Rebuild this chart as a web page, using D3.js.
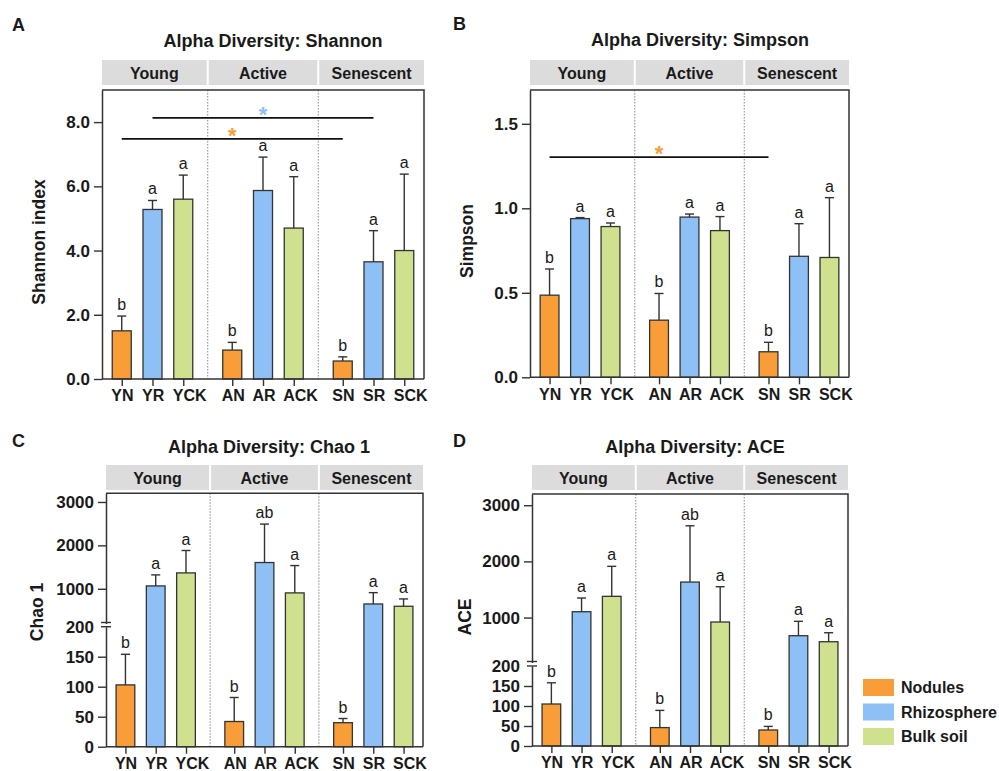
<!DOCTYPE html>
<html>
<head>
<meta charset="utf-8">
<script src="https://cdn.jsdelivr.net/npm/d3@7"></script>
<style>
  body { margin: 0; background: #fff; }
  svg { font-family: "Liberation Sans", Arial, sans-serif; }
</style>
</head>
<body>
<div id="chart"></div>
<script>
/* DATA */
const groups = ["Young", "Active", "Senescent"];
const types = ["Nodules", "Rhizosphere", "Bulk soil"];
const samples = ["YN", "YR", "YCK", "AN", "AR", "ACK", "SN", "SR", "SCK"];

const shannonMean = [1.50, 5.28, 5.60, 0.90, 5.87, 4.70, 0.56, 3.65, 4.00];
const shannonSd = [0.46, 0.28, 0.75, 0.24, 1.04, 1.60, 0.13, 0.97, 2.38];
const shannonLetters = ["b", "a", "a", "b", "a", "a", "b", "a", "a"];
const shannonTicks = [0, 2, 4, 6, 8];

const simpsonMean = [0.486, 0.939, 0.892, 0.338, 0.948, 0.868, 0.151, 0.716, 0.709];
const simpsonSd = [0.155, 0.006, 0.021, 0.158, 0.018, 0.083, 0.056, 0.193, 0.354];
const simpsonLetters = ["b", "a", "a", "b", "a", "a", "b", "a", "a"];
const simpsonTicks = [0, 0.5, 1.0, 1.5];

const chaoMean = [103, 1066, 1366, 42, 1605, 905, 40, 650, 597];
const chaoSd = [51, 254, 516, 40, 886, 630, 7, 261, 169];
const chaoLetters = ["b", "a", "a", "b", "ab", "a", "b", "a", "a"];

const aceMean = [105, 1104, 1378, 46, 1632, 921, 40, 677, 570];
const aceSd = [53, 244, 534, 43, 1002, 628, 9, 256, 160];
const aceLetters = ["b", "a", "a", "b", "ab", "a", "b", "a", "a"];

// broken axis for the richness panels
const lowTicks = [0, 50, 100, 150, 200];
const highTicks = [1000, 2000, 3000];
const breakAt = 200;

// significance bars (value = height in data units, type = colour of the star)
const shannonSig = [
  { from: "YN", to: "SN", value: 7.48, type: 0 },
  { from: "YR", to: "SR", value: 8.13, type: 1 }
];
const simpsonSig = [
  { from: "YN", to: "SN", value: 1.303, type: 0 }
];

/* STYLE + LAYOUT */
const colors = ["#f99d38", "#8ebff5", "#cfe18f"];
const ink = "#1a1a1a";
const line = "#333";

const panels = [
  { id: "A", title: "Alpha Diversity: Shannon", yTitle: "Shannon index",
    mean: shannonMean, sd: shannonSd, letters: shannonLetters, ticks: shannonTicks, max: 9, sig: shannonSig,
    left: 102, right: 424, top: 90, bottom: 379, stripTop: 60,
    lx: 12, ly: 31, tx: 273, ty: 47, yx: 38.5, yy: 242 },
  { id: "B", title: "Alpha Diversity: Simpson", yTitle: "Simpson",
    mean: simpsonMean, sd: simpsonSd, letters: simpsonLetters, ticks: simpsonTicks, max: 1.7, sig: simpsonSig,
    left: 530, right: 849, top: 90, bottom: 377.3, stripTop: 60,
    lx: 453, ly: 30, tx: 700, ty: 46, yx: 466.7, yy: 241 },
  { id: "C", title: "Alpha Diversity: Chao 1", yTitle: "Chao 1",
    mean: chaoMean, sd: chaoSd, letters: chaoLetters, broken: true, max: 3200, sig: [],
    left: 106, right: 423, top: 493.3, bottom: 746.7, lowTop: 626.7, highBottom: 623.5, stripTop: 465,
    lx: 12, ly: 447, tx: 269, ty: 453, yx: 37, yy: 612 },
  { id: "D", title: "Alpha Diversity: ACE", yTitle: "ACE",
    mean: aceMean, sd: aceSd, letters: aceLetters, broken: true, max: 3200, sig: [],
    left: 532, right: 848, top: 494, bottom: 746, lowTop: 666, highBottom: 662.5, stripTop: 465,
    lx: 453, ly: 447, tx: 695, ty: 453, yx: 465, yy: 617 }
];

const svg = d3.select("#chart")
  .append("svg")
  .attr("width", 999)
  .attr("height", 771);

panels.forEach(drawPanel);
drawLegend();

function drawPanel(p) {
  const g = svg.append("g").attr("class", "panel-" + p.id);

  // x scales: groups, then sample type inside each group
  const x0 = d3.scaleBand()
    .domain(groups)
    .range([p.left, p.right])
    .paddingInner(0.086)
    .paddingOuter(0);
  const x1 = d3.scaleBand()
    .domain(types)
    .range([0, x0.bandwidth()])
    .paddingInner(0.382)
    .paddingOuter(0.333);
  const xPos = (i) => x0(groups[Math.floor(i / 3)]) + x1(types[i % 3]);
  const xMid = (i) => xPos(i) + x1.bandwidth() / 2;
  const xCenter = d3.scaleOrdinal()
    .domain(samples)
    .range(samples.map((s, i) => xMid(i)));

  // y scale (two linear pieces when the axis is broken)
  let y, yLow, yHigh;
  if (p.broken) {
    yLow = d3.scaleLinear().domain([0, breakAt]).range([p.bottom, p.lowTop]);
    yHigh = d3.scaleLinear().domain([breakAt, p.max]).range([p.highBottom, p.top]);
    y = v => v <= breakAt ? yLow(v) : yHigh(v);
  } else {
    y = d3.scaleLinear().domain([0, p.max]).range([p.bottom, p.top]);
  }

  const seps = groups.slice(1).map(d => x0(d) - x0.step() * x0.paddingInner() / 2);
  const edges = [p.left, ...seps, p.right];

  // panel letter + title
  g.append("text")
    .attr("x", p.lx).attr("y", p.ly)
    .style("font-size", "18px").style("font-weight", "bold").attr("fill", ink)
    .text(p.id);
  g.append("text")
    .attr("x", p.tx).attr("y", p.ty)
    .attr("text-anchor", "middle")
    .style("font-size", "18px").style("font-weight", "bold").attr("fill", ink)
    .text(p.title);

  // strip header
  const strip = g.append("g");
  groups.forEach((grp, k) => {
    const a = edges[k] + (k === 0 ? 0 : 1);
    const b = edges[k + 1] - (k === groups.length - 1 ? 0 : 1);
    strip.append("rect")
      .attr("x", a).attr("y", p.stripTop)
      .attr("width", b - a).attr("height", 25)
      .attr("fill", "#dcdcdc");
    strip.append("text")
      .attr("x", (a + b) / 2).attr("y", p.stripTop + 18.5)
      .attr("text-anchor", "middle")
      .style("font-size", "16px").style("font-weight", "bold").attr("fill", ink)
      .text(grp);
  });

  // dotted separators
  g.selectAll(".sep")
    .data(seps)
    .join("line")
    .attr("class", "sep")
    .attr("x1", d => d).attr("x2", d => d)
    .attr("y1", p.top).attr("y2", p.bottom)
    .attr("stroke", "#888")
    .attr("stroke-width", 1)
    .attr("stroke-dasharray", "1.5,1.5");

  // bars
  g.selectAll(".bar")
    .data(p.mean)
    .join("rect")
    .attr("class", "bar")
    .attr("x", (d, i) => xPos(i))
    .attr("width", x1.bandwidth())
    .attr("y", d => y(d))
    .attr("height", d => p.bottom - y(d))
    .attr("fill", (d, i) => colors[i % 3])
    .attr("stroke", line)
    .attr("stroke-width", 1.3);

  // error bars (upper half only)
  const err = g.selectAll(".err")
    .data(p.mean.map((m, i) => ({ m, top: m + p.sd[i], i })))
    .join("g")
    .attr("class", "err")
    .attr("stroke", line)
    .attr("stroke-width", 1.4);
  err.append("line")
    .attr("x1", d => xMid(d.i)).attr("x2", d => xMid(d.i))
    .attr("y1", d => y(d.m)).attr("y2", d => y(d.top));
  err.append("line")
    .attr("x1", d => xMid(d.i) - 4.5).attr("x2", d => xMid(d.i) + 4.5)
    .attr("y1", d => y(d.top)).attr("y2", d => y(d.top));

  // letters
  g.selectAll(".letter")
    .data(p.letters)
    .join("text")
    .attr("class", "letter")
    .attr("x", (d, i) => xMid(i))
    .attr("y", (d, i) => y(p.mean[i] + p.sd[i]) - 6)
    .attr("text-anchor", "middle")
    .style("font-size", "16px").attr("fill", ink)
    .text(d => d);

  // significance lines
  p.sig.forEach(s => {
    const a = xCenter(s.from), b = xCenter(s.to);
    g.append("line")
      .attr("x1", a).attr("x2", b)
      .attr("y1", y(s.value)).attr("y2", y(s.value))
      .attr("stroke", "#111").attr("stroke-width", 1.8);
    g.append("text")
      .attr("x", (a + b) / 2).attr("y", y(s.value) + 4)
      .attr("text-anchor", "middle")
      .style("font-size", "22px").style("font-weight", "bold")
      .attr("fill", colors[s.type])
      .text("*");
  });

  // frame: top + right
  g.append("path")
    .attr("d", `M${p.left},${p.top}H${p.right}V${p.bottom}`)
    .attr("fill", "none").attr("stroke", line).attr("stroke-width", 1.5);

  // x axis (labels start a little left of the bar centre, as in the original)
  const xAxis = g.append("g")
    .attr("transform", `translate(0,${p.bottom})`)
    .call(d3.axisBottom(xCenter).tickSize(7).tickPadding(4).tickSizeOuter(0));
  xAxis.select(".domain").remove();
  xAxis.append("line")
    .attr("x1", p.left).attr("x2", p.right)
    .attr("stroke", line).attr("stroke-width", 1.5);
  styleAxis(xAxis, "16px");
  xAxis.selectAll(".tick text")
    .attr("text-anchor", "start")
    .attr("x", -11);

  // y axis
  if (p.broken) {
    const lowAxis = g.append("g")
      .attr("transform", `translate(${p.left},0)`)
      .call(d3.axisLeft(yLow).tickValues(lowTicks).tickFormat(d3.format("d")).tickSize(8).tickPadding(4).tickSizeOuter(0));
    lowAxis.selectAll(".tick").filter(d => d === breakAt).select("line").remove();
    styleAxis(lowAxis, "17px");
    const highAxis = g.append("g")
      .attr("transform", `translate(${p.left},0)`)
      .call(d3.axisLeft(yHigh).tickValues(highTicks).tickFormat(d3.format("d")).tickSize(8).tickPadding(4).tickSizeOuter(0));
    styleAxis(highAxis, "17px");
    // break marks
    [p.lowTop, p.highBottom - 1].forEach(yy => {
      g.append("line")
        .attr("x1", p.left - 5).attr("x2", p.left + 5)
        .attr("y1", yy).attr("y2", yy)
        .attr("stroke", line).attr("stroke-width", 1.4);
    });
  } else {
    const yAxis = g.append("g")
      .attr("transform", `translate(${p.left},0)`)
      .call(d3.axisLeft(y).tickValues(p.ticks).tickFormat(d3.format(".1f")).tickSize(8).tickPadding(4).tickSizeOuter(0));
    styleAxis(yAxis, "17px");
  }

  g.append("text")
    .attr("transform", `translate(${p.yx},${p.yy}) rotate(-90)`)
    .attr("text-anchor", "middle")
    .attr("dy", "0.35em")
    .style("font-size", "17.5px").style("font-weight", "bold").attr("fill", ink)
    .text(p.yTitle);
}

function styleAxis(sel, size) {
  sel.selectAll(".domain").attr("stroke", line).attr("stroke-width", 1.5);
  sel.selectAll(".tick line").attr("stroke", line).attr("stroke-width", 1.4);
  sel.selectAll(".tick text")
    .attr("fill", ink)
    .style("font-size", size)
    .style("font-weight", "bold")
    .style("font-family", "'Liberation Sans', Arial, sans-serif");
}

function drawLegend() {
  const lg = svg.append("g").attr("transform", "translate(863,679)");
  const item = lg.selectAll(".item")
    .data(types)
    .join("g")
    .attr("class", "item")
    .attr("transform", (d, i) => `translate(0,${i * 24.5})`);
  item.append("rect")
    .attr("width", 31).attr("height", 17)
    .attr("fill", (d, i) => colors[i]);
  item.append("text")
    .attr("x", 38).attr("y", 8.5)
    .attr("dy", "0.35em")
    .style("font-size", "16px").style("font-weight", "bold").attr("fill", ink)
    .text(d => d);
}
</script>
</body>
</html>
